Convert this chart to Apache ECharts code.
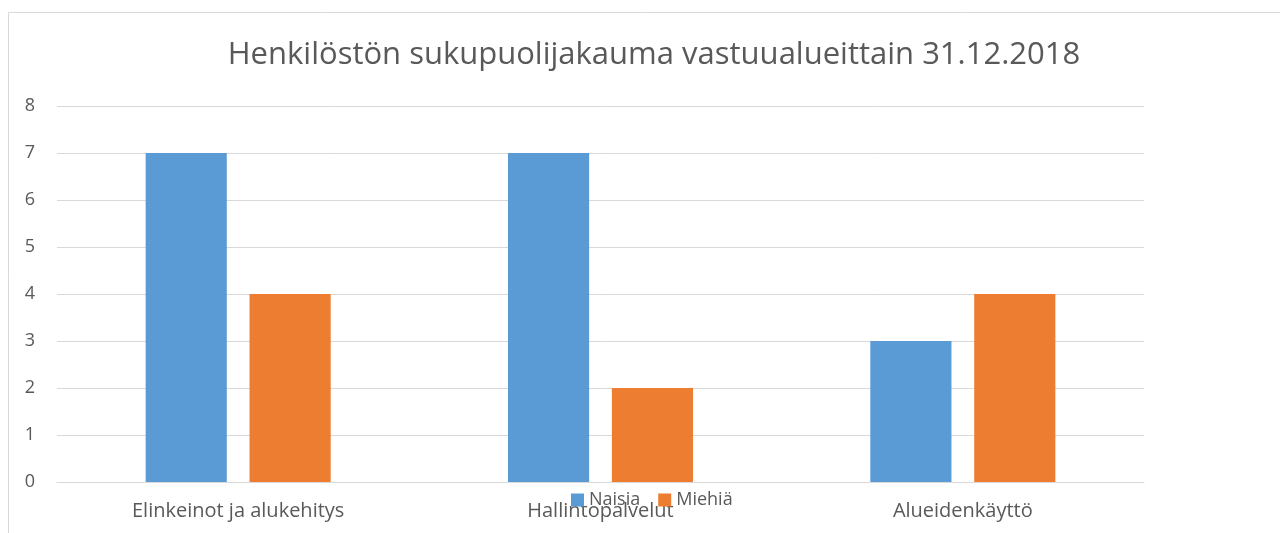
<!DOCTYPE html>
<html style="height: 100%">
   <head>
       <meta charset="utf-8">
   </head>
   <body style="height: 100%; margin: 0; background: #fff">
       <div id="container" style="height: 100%"></div>
       <script type="text/javascript" src="https://cdn.jsdelivr.net/npm/echarts@6/dist/echarts.min.js"></script>
       <script type="text/javascript">
            var categories = ['Elinkeinot ja alukehitys', 'Hallintopalvelut', 'Alueidenkäyttö'];
            var naisia = [7, 7, 3];
            var miehia = [4, 2, 4];
            var seriesNames = ['Naisia', 'Miehiä'];

            var dom = document.getElementById("container");
            var myChart = echarts.init(dom);
            var txt = '#595959';
            var font = 'Open Sans';

            var option = {
                animation: false,
                title: {
                    text: 'Henkilöstön sukupuolijakauma vastuualueittain 31.12.2018',
                    left: 649,
                    textAlign: 'center',
                    top: 35,
                    textStyle: {
                        color: txt,
                        fontFamily: font,
                        fontSize: 31,
                        fontWeight: 'normal'
                    }
                },
                graphic: [{
                    type: 'rect',
                    shape: {x: 8.5, y: 12.5, width: 1300, height: 600},
                    style: {fill: 'none', stroke: '#d9d9d9', lineWidth: 1},
                    silent: true
                }],
                legend: {
                    data: seriesNames,
                    left: 566,
                    top: 486,
                    itemWidth: 13,
                    itemHeight: 13,
                    itemGap: 18,
                    icon: 'rect',
                    textStyle: {color: txt, fontFamily: font, fontSize: 18}
                },
                grid: {
                    left: 57,
                    right: 136,
                    top: 106,
                    bottom: 51,
                    containLabel: false
                },
                xAxis: {
                    type: 'category',
                    data: categories,
                    axisLine: {lineStyle: {color: '#d9d9d9'}},
                    axisTick: {show: false},
                    axisLabel: {color: txt, fontFamily: font, fontSize: 20, margin: 19}
                },
                yAxis: {
                    type: 'value',
                    min: 0,
                    max: 8,
                    interval: 1,
                    axisLine: {show: false},
                    axisTick: {show: false},
                    axisLabel: {color: txt, fontFamily: font, fontSize: 18, margin: 22},
                    splitLine: {lineStyle: {color: '#d9d9d9'}}
                },
                series: [{
                    name: seriesNames[0],
                    type: 'bar',
                    data: naisia,
                    barWidth: '22.4%',
                    barGap: '28%',
                    itemStyle: {color: '#5b9bd5'}
                }, {
                    name: seriesNames[1],
                    type: 'bar',
                    data: miehia,
                    barWidth: '22.4%',
                    barGap: '28%',
                    itemStyle: {color: '#ed7d31'}
                }]
            };

            myChart.setOption(option);
       </script>
   </body>
</html>
